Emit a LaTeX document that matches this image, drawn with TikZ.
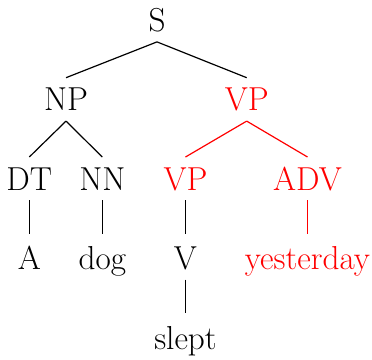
\documentclass[tikz,border=0pt]{standalone}
\begin{document}
\begin{tikzpicture}[x=0.5pt,y=-0.5pt,
  tn/.style={anchor=base,inner xsep=0pt,inner ysep=5pt,text height=11.3pt,text depth=0pt,font=\fontsize{16.6}{20}\selectfont},
  rd/.style={red},
  edge/.style={line width=0.6pt},
  leafedge/.style={line width=0.6pt,shorten >=1.4pt}]
\useasboundingbox (0,0) rectangle (372,360);
\node[tn] (S) at (157,31.5) {S};
\node[tn] (NP) at (66,110.7) {NP};
\node[tn,rd] (VP) at (246.7,110.7) {VP};
\node[tn] (DT) at (29.3,190) {DT};
\node[tn] (NN) at (102.3,190) {NN};
\node[tn,rd] (VPb) at (185.5,190) {VP};
\node[tn,rd] (ADV) at (307.5,190) {ADV};
\node[tn] (A) at (29.3,269.3) {A};
\node[tn] (dog) at (102.3,269.3) {dog};
\node[tn] (V) at (185.5,269.3) {V};
\node[tn,rd] (yest) at (307.5,269.3) {yesterday};
\node[tn] (slept) at (185.5,349.3) {slept};
\draw[edge] (S.south) -- (NP.north);
\draw[edge] (S.south) -- (VP.north);
\draw[edge] (NP.south) -- (DT.north);
\draw[edge] (NP.south) -- (NN.north);
\draw[edge,red] (VP.south) -- (VPb.north);
\draw[edge,red] (VP.south) -- (ADV.north);
\draw[leafedge] (DT.south) -- (A.north);
\draw[leafedge] (NN.south) -- (dog.north);
\draw[leafedge] (VPb.south) -- (V.north);
\draw[leafedge,red] (ADV.south) -- (yest.north);
\draw[leafedge] (V.south) -- (slept.north);
\end{tikzpicture}
\end{document}
